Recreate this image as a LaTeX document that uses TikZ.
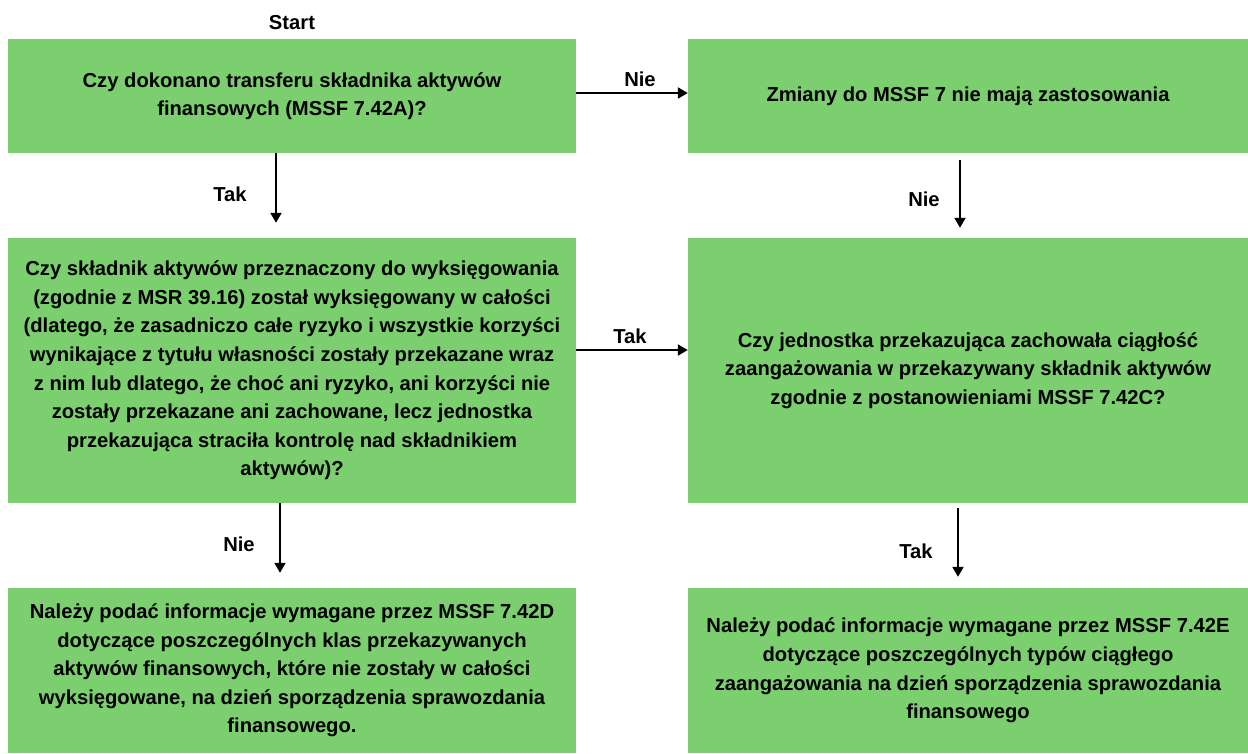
\documentclass[tikz,border=0pt]{standalone}
\usepackage{fontspec}
\setmainfont{Liberation Sans}
\usetikzlibrary{arrows.meta}
\definecolor{boxgreen}{HTML}{7BCF6E}
\tikzset{
    stepbox/.style={fill=boxgreen, draw=none, inner sep=0pt, align=center,
        font=\fontsize{20.2}{28.6}\selectfont\bfseries},
    arr/.style={-{Triangle[length=10pt,width=11pt]}, line width=2pt},
    lbl/.style={font=\fontsize{20.2}{24}\selectfont\bfseries}
}
\begin{document}
\begin{tikzpicture}[x=1pt, y=-1pt]
    \useasboundingbox (0,0) rectangle (1248,753);
    % boxes
    \node[stepbox, minimum width=568pt, minimum height=114pt] (transfer) at (292,96)
        {Czy dokonano transferu składnika aktywów\\finansowych (MSSF 7.42A)?};
    \node[stepbox, minimum width=560pt, minimum height=114pt] (noapply) at (968,96)
        {Zmiany do MSSF 7 nie mają zastosowania};
    \node[stepbox, minimum width=568pt, minimum height=265pt] (derecog) at (292,370.5)
        {Czy składnik aktywów przeznaczony do wyksięgowania\\
         (zgodnie z MSR 39.16) został wyksięgowany w całości\\
         (dlatego, że zasadniczo całe ryzyko i wszystkie korzyści\\
         wynikające z tytułu własności zostały przekazane wraz\\
         z nim lub dlatego, że choć ani ryzyko, ani korzyści nie\\
         zostały przekazane ani zachowane, lecz jednostka\\
         przekazująca straciła kontrolę nad składnikiem\\
         aktywów)?};
    \node[stepbox, minimum width=560pt, minimum height=265pt] (involve) at (968,370.5)
        {Czy jednostka przekazująca zachowała ciągłość\\
         zaangażowania w przekazywany składnik aktywów\\
         zgodnie z postanowieniami MSSF 7.42C?};
    \node[stepbox, minimum width=568pt, minimum height=165pt] (discD) at (292,670.5)
        {Należy podać informacje wymagane przez MSSF 7.42D\\
         dotyczące poszczególnych klas przekazywanych\\
         aktywów finansowych, które nie zostały w całości\\
         wyksięgowane, na dzień sporządzenia sprawozdania\\
         finansowego.};
    \node[stepbox, minimum width=560pt, minimum height=165pt] (discE) at (968,670.5)
        {Należy podać informacje wymagane przez MSSF 7.42E\\
         dotyczące poszczególnych typów ciągłego\\
         zaangażowania na dzień sporządzenia sprawozdania\\
         finansowego};
    % arrows
    \draw[arr] ([yshift=3pt]transfer.east) -- ([yshift=3pt]noapply.west);
    \draw[arr, shorten >=15pt] ([xshift=-16pt]transfer.south) -- ([xshift=-16pt]derecog.north);
    \draw[arr, shorten <=7pt, shorten >=10pt] ([xshift=-8pt]noapply.south) -- ([xshift=-8pt]involve.north);
    \draw[arr] ([yshift=20.5pt]derecog.east) -- ([yshift=20.5pt]involve.west);
    \draw[arr, shorten >=15pt] ([xshift=-12pt]derecog.south) -- ([xshift=-12pt]discD.north);
    \draw[arr, shorten <=5pt, shorten >=11pt] ([xshift=-10pt]involve.south) -- ([xshift=-10pt]discE.north);
    % labels
    \node[lbl] (start) at (292,23) {Start};
    \node[lbl] (nie1) at (640,79) {Nie};
    \node[lbl] (tak1) at (230,194) {Tak};
    \node[lbl] (nie2) at (924,199) {Nie};
    \node[lbl] (tak2) at (630,336) {Tak};
    \node[lbl] (nie3) at (239,544) {Nie};
    \node[lbl] (tak3) at (916,551) {Tak};
\end{tikzpicture}
\end{document}
